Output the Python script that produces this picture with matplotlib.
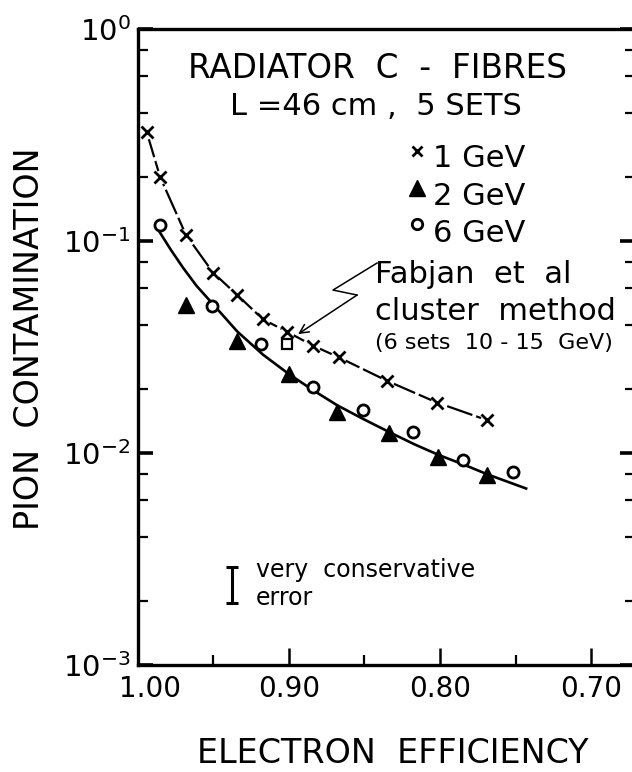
import matplotlib.pyplot as plt
from matplotlib.ticker import FixedLocator, LogLocator, NullFormatter
from matplotlib.transforms import ScaledTranslation

# 1 GeV : crosses, dashed curve
eff_1gev = [0.994, 0.985, 0.968, 0.950, 0.934, 0.917, 0.901, 0.884, 0.867, 0.835, 0.802, 0.769]
pion_1gev = [0.328, 0.200, 0.107, 0.0709, 0.0556, 0.0427, 0.0373, 0.0321, 0.0283, 0.0219, 0.0173, 0.0143]

# 2 GeV : filled triangles
eff_2gev = [0.968, 0.934, 0.900, 0.868, 0.834, 0.801, 0.769]
pion_2gev = [0.0499, 0.0339, 0.0235, 0.0156, 0.0124, 0.0096, 0.0079]

# 6 GeV : open circles
eff_6gev = [0.985, 0.951, 0.918, 0.884, 0.851, 0.818, 0.785, 0.752]
pion_6gev = [0.119, 0.0491, 0.0327, 0.0204, 0.0160, 0.0126, 0.0093, 0.0081]

# solid curve through 2 and 6 GeV
fit_eff = [0.987, 0.978, 0.970, 0.961, 0.951, 0.934, 0.917, 0.900, 0.884, 0.868, 0.851, 0.834, 0.817, 0.801, 0.784, 0.768, 0.743]
fit_pion = [0.115, 0.0910, 0.0750, 0.0615, 0.0512, 0.0374, 0.0291, 0.0236, 0.0198, 0.0168, 0.0145, 0.0126, 0.0110, 0.0098, 0.0088, 0.0079, 0.0068]

# Fabjan et al, cluster method
fabjan_eff = [0.901]
fabjan_pion = [0.0327]

# "very conservative error" bar
err_eff = 0.9375
err_lo, err_hi = 0.00196, 0.0029

# zig-zag pointer from the Fabjan text to the square
arrow_eff = [0.8416, 0.8707, 0.8548]
arrow_pion = [0.0787, 0.0587, 0.0556]
arrow_tip = (0.8938, 0.0364)

x_ticks = [1.00, 0.90, 0.80, 0.70]
x_labels = ['1.00', '0.90', '0.80', '0.70']
x_minor = [0.95, 0.85, 0.75]
y_ticks = [1e-3, 1e-2, 1e-1, 1e0]
y_labels = [r'$10^{-3}$', r'$10^{-2}$', r'$10^{-1}$', r'$10^{0}$']

plt.rcParams['font.family'] = ['DejaVu Sans']

fig = plt.figure(figsize=(6.32, 7.72), dpi=100)
ax = fig.add_axes([137.5/632, 1-665/772, 497.5/632, 636/772])

ax.set_yscale('log')
ax.set_xlim(1.0, 0.671)
ax.set_ylim(1e-3, 1.0)

# curves
ax.plot(fit_eff, fit_pion, '-', color='black', lw=1.9, zorder=2)
ax.plot(eff_1gev, pion_1gev, color='black', lw=1.6, dashes=(12, 1.8), zorder=2)

# white patches so the dashed line is broken at each cross
ax.plot(eff_1gev, pion_1gev, 'o', ms=10, mfc='white', mec='none', zorder=3)
ax.plot(eff_1gev, pion_1gev, 'x', ms=8, mew=2.0, color='black', zorder=4)
ax.plot(eff_2gev, pion_2gev, '^', ms=12, color='black', mec='black', zorder=4)
ax.plot(eff_6gev, pion_6gev, 'o', ms=8, mfc='white', mec='black', mew=2.0, zorder=4)
ax.plot(fabjan_eff, fabjan_pion, 's', ms=7.5, mfc='white', mec='black', mew=1.6, zorder=4)

# pointer
ax.plot(arrow_eff, arrow_pion, color='black', lw=1.1)
ax.annotate('', xy=arrow_tip, xytext=(arrow_eff[-1], arrow_pion[-1]),
            arrowprops=dict(arrowstyle='->', lw=1.1, color='black',
                            shrinkA=0, shrinkB=0, mutation_scale=16))

# error bar sample
err_mid = (err_lo*err_hi) ** 0.5
ax.errorbar([err_eff], [err_mid], yerr=[[err_mid-err_lo], [err_hi-err_mid]],
            fmt='none', ecolor='black', elinewidth=2.2, capsize=4.5, capthick=2.2)

# texts
ax.text(0.4834, 0.9230, 'RADIATOR  C  -  FIBRES', transform=ax.transAxes,
        ha='center', va='baseline', fontsize=23.5)
ax.text(0.4784, 0.8648, 'L =46 cm ,  5 SETS', transform=ax.transAxes,
        ha='center', va='baseline', fontsize=22)

leg_x = 0.5628
ax.plot([leg_x], [0.8082], 'x', ms=6.5, mew=2.0, color='black', transform=ax.transAxes, clip_on=False)
ax.plot([leg_x], [0.750], '^', ms=11, color='black', transform=ax.transAxes, clip_on=False)
ax.plot([leg_x], [0.6934], 'o', ms=7.5, mfc='white', mec='black', mew=2.0, transform=ax.transAxes, clip_on=False)
ax.text(0.5930, 0.7830, '1 GeV', transform=ax.transAxes, ha='left', va='baseline', fontsize=22)
ax.text(0.5930, 0.7233, '2 GeV', transform=ax.transAxes, ha='left', va='baseline', fontsize=22)
ax.text(0.5930, 0.6651, '6 GeV', transform=ax.transAxes, ha='left', va='baseline', fontsize=22)

ax.text(0.4774, 0.6006, 'Fabjan  et  al', transform=ax.transAxes, ha='left', va='baseline', fontsize=22)
ax.text(0.4774, 0.5425, 'cluster  method', transform=ax.transAxes, ha='left', va='baseline', fontsize=22)
ax.text(0.4774, 0.4969, '(6 sets  10 - 15  GeV)', transform=ax.transAxes, ha='left', va='baseline', fontsize=16)

ax.text(0.2382, 0.1384, 'very  conservative', transform=ax.transAxes, ha='left', va='baseline', fontsize=17)
ax.text(0.2382, 0.0943, 'error', transform=ax.transAxes, ha='left', va='baseline', fontsize=17)

# axis labels
fig.text(30/632, 1-339/772, 'PION  CONTAMINATION', rotation=90, ha='center', va='center', fontsize=24)
fig.text(393/632, 1-763/772, 'ELECTRON  EFFICIENCY', ha='center', va='baseline', fontsize=24)

# ticks
ax.xaxis.set_major_locator(FixedLocator(x_ticks))
ax.set_xticklabels(x_labels)
ax.xaxis.set_minor_locator(FixedLocator(x_minor))
ax.yaxis.set_major_locator(FixedLocator(y_ticks))
ax.set_yticklabels(y_labels)
ax.yaxis.set_minor_locator(LogLocator(base=10, subs=(2, 4, 6, 8)))
ax.yaxis.set_minor_formatter(NullFormatter())

ax.tick_params(axis='x', which='major', direction='in', length=12, width=1.8, labelsize=20, pad=7)
ax.tick_params(axis='x', which='minor', direction='in', length=7, width=1.6)
ax.tick_params(axis='y', which='major', direction='in', length=11, width=2.6, labelsize=21, pad=5,
               right=True)
ax.tick_params(axis='y', which='minor', direction='in', length=7, width=1.6, right=True)

for s in ax.spines.values():
    s.set_linewidth(2.4)

# the "1.00" label sits a little right of its tick in the original
fig.canvas.draw()
first = ax.xaxis.get_major_ticks()[0].label1
first.set_transform(first.get_transform() + ScaledTranslation(0.12, 0, fig.dpi_scale_trans))

fig.savefig('out.png', dpi=100)
